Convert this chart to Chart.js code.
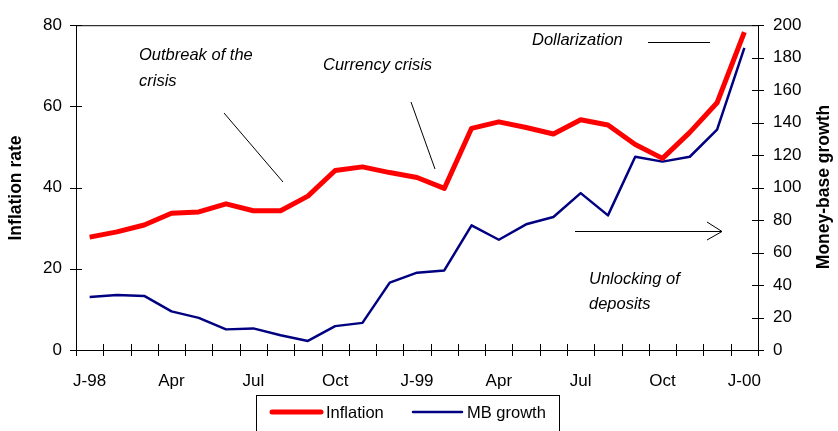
<!DOCTYPE html>
<html>
<head>
<meta charset="utf-8">
<title>Inflation and money-base growth</title>
<script src="https://cdn.jsdelivr.net/npm/chart.js@4.4.1/dist/chart.umd.min.js"></script>
<style>
	html, body { margin: 0; padding: 0; background: #fff; }
	#wrap { width: 838px; height: 431px; }
</style>
</head>
<body>
<div id="wrap"><canvas id="chart" width="838" height="431"></canvas></div>
<script>
// monthly data, Jan 1998 - Jan 2000
var months = ['Jan-98','Feb-98','Mar-98','Apr-98','May-98','Jun-98','Jul-98','Aug-98','Sep-98','Oct-98','Nov-98','Dec-98',
	'Jan-99','Feb-99','Mar-99','Apr-99','May-99','Jun-99','Jul-99','Aug-99','Sep-99','Oct-99','Nov-99','Dec-99','Jan-00'];
var tickLabels = ['J-98','Apr','Jul','Oct','J-99','Apr','Jul','Oct','J-00'];
var inflation = [27.8, 29.1, 30.8, 33.7, 34.0, 36.0, 34.3, 34.3, 37.9, 44.2, 45.1, 43.7,
	42.5, 39.8, 54.6, 56.2, 54.8, 53.2, 56.7, 55.4, 50.6, 47.2, 53.6, 60.9, 78.3];
var mbGrowth = [32.7, 33.9, 33.3, 23.8, 19.8, 12.7, 13.3, 9.1, 5.6, 14.7, 16.7, 41.5,
	47.6, 49.0, 76.8, 67.9, 77.4, 81.9, 96.6, 82.9, 119, 116, 119, 135.7, 186];

var FONT = '"Liberation Sans", Arial, sans-serif';
var FS = 17;

Chart.defaults.font.family = FONT;
Chart.defaults.font.size = FS;
Chart.defaults.color = '#000';

var extras = {
	id: 'extras',
	afterDraw: function(chart) {
		var ctx = chart.ctx;
		var a = chart.chartArea;
		var x = chart.scales.x, y = chart.scales.y, y1 = chart.scales.y1;
		ctx.save();
		ctx.strokeStyle = '#000';
		ctx.lineWidth = 1;
		ctx.beginPath();
		// top frame
		ctx.moveTo(a.left, a.top + 0.5);
		ctx.lineTo(a.right, a.top + 0.5);
		// x tick marks across the axis, between months
		var half = (x.getPixelForValue(1) - x.getPixelForValue(0)) / 2;
		for (var i = 0; i <= months.length; i++) {
			var px = Math.round(x.getPixelForValue(i) - half) + 0.5;
			ctx.moveTo(px, a.bottom - 6);
			ctx.lineTo(px, a.bottom + 6);
		}
		y.ticks.forEach(function(t) {
			var py = Math.round(y.getPixelForValue(t.value)) + 0.5;
			ctx.moveTo(a.left - 6, py);
			ctx.lineTo(a.left + 6, py);
		});
		y1.ticks.forEach(function(t) {
			var py = Math.round(y1.getPixelForValue(t.value)) + 0.5;
			ctx.moveTo(a.right - 6, py);
			ctx.lineTo(a.right + 6, py);
		});
		ctx.stroke();

		// axis titles
		ctx.font = 'bold 17.5px ' + FONT;
		ctx.textAlign = 'center';
		ctx.textBaseline = 'middle';
		ctx.fillStyle = '#000';
		ctx.save(); ctx.translate(16, 188); ctx.rotate(-Math.PI / 2); ctx.fillText('Inflation rate', 0, 0); ctx.restore();
		ctx.save(); ctx.translate(824, 187); ctx.rotate(-Math.PI / 2); ctx.fillText('Money-base growth', 0, 0); ctx.restore();

		// annotations
		ctx.font = 'italic 16.5px ' + FONT;
		ctx.textAlign = 'left';
		ctx.fillText('Outbreak of the', 139, 55);
		ctx.fillText('crisis', 139, 81);
		ctx.fillText('Currency crisis', 323, 65);
		ctx.fillText('Dollarization', 532, 40);
		ctx.fillText('Unlocking of', 589, 279);
		ctx.fillText('deposits', 589, 304);
		ctx.beginPath();
		ctx.moveTo(224, 113); ctx.lineTo(283, 182);
		ctx.moveTo(411, 102); ctx.lineTo(435, 169);
		ctx.moveTo(648, 42.5); ctx.lineTo(710, 42.5);
		ctx.moveTo(575, 231.5); ctx.lineTo(722, 231.5);
		ctx.moveTo(707, 222); ctx.lineTo(722, 231.5); ctx.lineTo(707, 240);
		ctx.stroke();

		// legend box
		ctx.strokeRect(256.5, 395.5, 303, 50);
		ctx.lineCap = 'round';
		ctx.strokeStyle = '#ff0000';
		ctx.lineWidth = 5;
		ctx.beginPath(); ctx.moveTo(272, 412); ctx.lineTo(321, 412); ctx.stroke();
		ctx.strokeStyle = '#000080';
		ctx.lineWidth = 2.5;
		ctx.beginPath(); ctx.moveTo(413, 412); ctx.lineTo(462, 412); ctx.stroke();
		ctx.font = '16.5px ' + FONT;
		ctx.fillText('Inflation', 326, 413);
		ctx.fillText('MB growth', 467, 413);
		ctx.restore();
	}
};

var canvas = document.getElementById('chart').getContext('2d');
window.line = new Chart(canvas, {
	type: 'line',
	data: {
		labels: months,
		datasets: [{
			label: 'Inflation',
			data: inflation,
			yAxisID: 'y',
			borderColor: '#ff0000',
			backgroundColor: '#ff0000',
			borderWidth: 5,
			borderJoinStyle: 'round',
			pointRadius: 0,
			tension: 0
		}, {
			label: 'MB growth',
			data: mbGrowth,
			yAxisID: 'y1',
			borderColor: '#000080',
			backgroundColor: '#000080',
			borderWidth: 2.5,
			borderJoinStyle: 'round',
			pointRadius: 0,
			tension: 0
		}]
	},
	options: {
		responsive: false,
		animation: false,
		layout: { padding: { top: 14, left: 0, right: 0, bottom: 0 } },
		plugins: {
			legend: { display: false },
			tooltip: { enabled: false }
		},
		scales: {
			x: {
				type: 'category',
				offset: true,
				grid: { display: false, drawTicks: false },
				border: { display: true, color: '#000', width: 1 },
				ticks: {
					autoSkip: false,
					maxRotation: 0,
					padding: 21,
					callback: function(v, i) { return i % 3 === 0 ? tickLabels[i / 3] : ''; }
				},
				afterFit: function(s) { s.height = 81; }
			},
			y: {
				position: 'left',
				min: 0, max: 80,
				grid: { display: false, drawTicks: false },
				border: { display: true, color: '#000', width: 1 },
				ticks: { stepSize: 20, padding: 14 },
				afterFit: function(s) { s.width = 76; }
			},
			y1: {
				position: 'right',
				min: 0, max: 200,
				grid: { display: false, drawTicks: false },
				border: { display: true, color: '#000', width: 1 },
				ticks: { stepSize: 20, padding: 15 },
				afterFit: function(s) { s.width = 80; }
			}
		}
	},
	plugins: [extras]
});
</script>
</body>
</html>
